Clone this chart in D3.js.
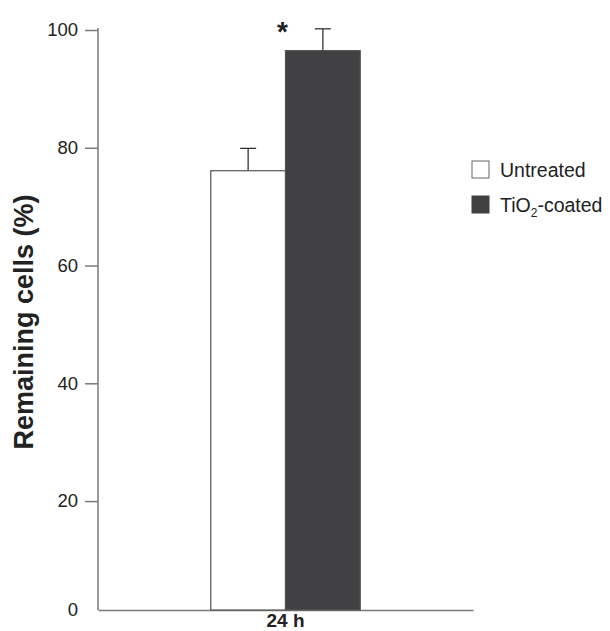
<!DOCTYPE html>
<html>
<head>
<meta charset="utf-8">
<script src="https://cdn.jsdelivr.net/npm/d3@7"></script>
<style>
  body { margin: 0; background: #fff; }
  svg text { font-family: "Liberation Sans", Arial, sans-serif; }
</style>
</head>
<body>
<div class="chart"></div>
<script>
// data
const categories = ["24 h"]
const series = ["Untreated", "TiO2-coated"]
const values = [76.1, 96.5]
const errors = [3.8, 3.7]
const significant = [false, true]
const yTicks = [20, 40, 60, 80, 100]

const width = 610, height = 631
const svg = d3.select(".chart").append("svg")
    .attr("width", width)
    .attr("height", height)

// axis floor sits a little above the true zero, label "0" put there
const yFloor = 1.5
let y = d3.scaleLinear().domain([yFloor, 100]).range([610, 30])
let x0 = d3.scaleBand().domain(categories).range([98, 473]).padding(0.43)
let x1 = d3.scaleBand().domain(series).range([0, x0.bandwidth()])
const colors = { "Untreated": "#ffffff", "TiO2-coated": "#414143" }
const axisColor = "#7a7a7a"

//y轴
let yAxis = svg.append("g")
    .attr("transform", `translate(${x0.range()[0]},0)`)
    .call(d3.axisLeft(y).tickValues(yTicks).tickSize(13).tickPadding(7).tickSizeOuter(0))
yAxis.select(".domain").attr("stroke", axisColor).attr("stroke-width", 1.5)
    .attr("d", `M0,${y(100) - 2}V${y(yFloor)}`)
yAxis.selectAll(".tick line").attr("stroke", axisColor).attr("stroke-width", 1.5)
yAxis.selectAll(".tick text").attr("font-size", 18.5).attr("fill", "#222")
    .style("font-family", "Liberation Sans, Arial, sans-serif")
svg.append("text")
    .attr("x", x0.range()[0] - 20)
    .attr("y", y(yFloor) + 6)
    .attr("text-anchor", "end")
    .attr("font-size", 18.5)
    .attr("fill", "#222")
    .text("0")

//x轴
let xAxis = svg.append("g")
    .attr("transform", `translate(0,${y(yFloor)})`)
    .call(d3.axisBottom(x0).tickSize(0).tickPadding(4))
xAxis.select(".domain").attr("stroke", axisColor).attr("stroke-width", 1.5)
xAxis.selectAll(".tick text").attr("font-size", 19).attr("font-weight", "bold").attr("fill", "#222")
    .style("font-family", "Liberation Sans, Arial, sans-serif")

//柱子和误差线
let groups = svg.append("g")
    .selectAll("g")
    .data(categories)
    .enter()
    .append("g")
    .attr("transform", (d) => `translate(${x0(d)},0)`)

const barData = series.map((s, i) => ({ s, v: values[i], e: errors[i], sig: significant[i] }))
groups.each(function () {
    let g = d3.select(this)
    // error bars first, bars drawn on top
    barData.forEach((d) => {
        let cx = x1(d.s) + x1.bandwidth() / 2
        g.append("line")
            .attr("x1", cx).attr("x2", cx)
            .attr("y1", y(d.v)).attr("y2", y(d.v + d.e))
            .attr("stroke", "#333").attr("stroke-width", 1.3)
        g.append("line")
            .attr("x1", cx - 8).attr("x2", cx + 8)
            .attr("y1", y(d.v + d.e)).attr("y2", y(d.v + d.e))
            .attr("stroke", "#333").attr("stroke-width", 1.3)
        if (d.sig) {
            g.append("text")
                .attr("x", x1(d.s) - 3)
                .attr("y", y(d.v + d.e) + 12)
                .attr("text-anchor", "middle")
                .attr("font-size", 28)
                .attr("font-weight", "bold")
                .attr("fill", "#222")
                .text("*")
        }
    })
    g.selectAll("rect")
        .data(barData)
        .enter()
        .append("rect")
        .attr("x", (d) => x1(d.s))
        .attr("y", (d) => y(d.v))
        .attr("width", x1.bandwidth())
        .attr("height", (d) => y(yFloor) - y(d.v))
        .attr("fill", (d) => colors[d.s])
        .attr("stroke", "#555")
        .attr("stroke-width", 1.2)
})

//y轴标题
svg.append("text")
    .attr("transform", "translate(33,322) rotate(-90)")
    .attr("text-anchor", "middle")
    .attr("font-size", 27)
    .attr("font-weight", "bold")
    .attr("fill", "#222")
    .text("Remaining cells (%)")

//图例
let legend = svg.append("g").attr("transform", "translate(472,161)")
series.forEach((s, i) => {
    let row = legend.append("g").attr("transform", `translate(0,${i * 35})`)
    row.append("rect")
        .attr("x", 0).attr("y", 0)
        .attr("width", 17).attr("height", 17)
        .attr("fill", colors[s])
        .attr("stroke", colors[s] === "#ffffff" ? "#666" : "#414143")
        .attr("stroke-width", 1)
    let t = row.append("text")
        .attr("x", 28).attr("y", 16)
        .attr("font-size", 19.5)
        .attr("fill", "#222")
    if (s === "TiO2-coated") {
        t.append("tspan").text("TiO")
        t.append("tspan").attr("font-size", 12).attr("dy", 5).text("2")
        t.append("tspan").attr("dy", -5).text("-coated")
    } else {
        t.text(s)
    }
})
</script>
</body>
</html>
